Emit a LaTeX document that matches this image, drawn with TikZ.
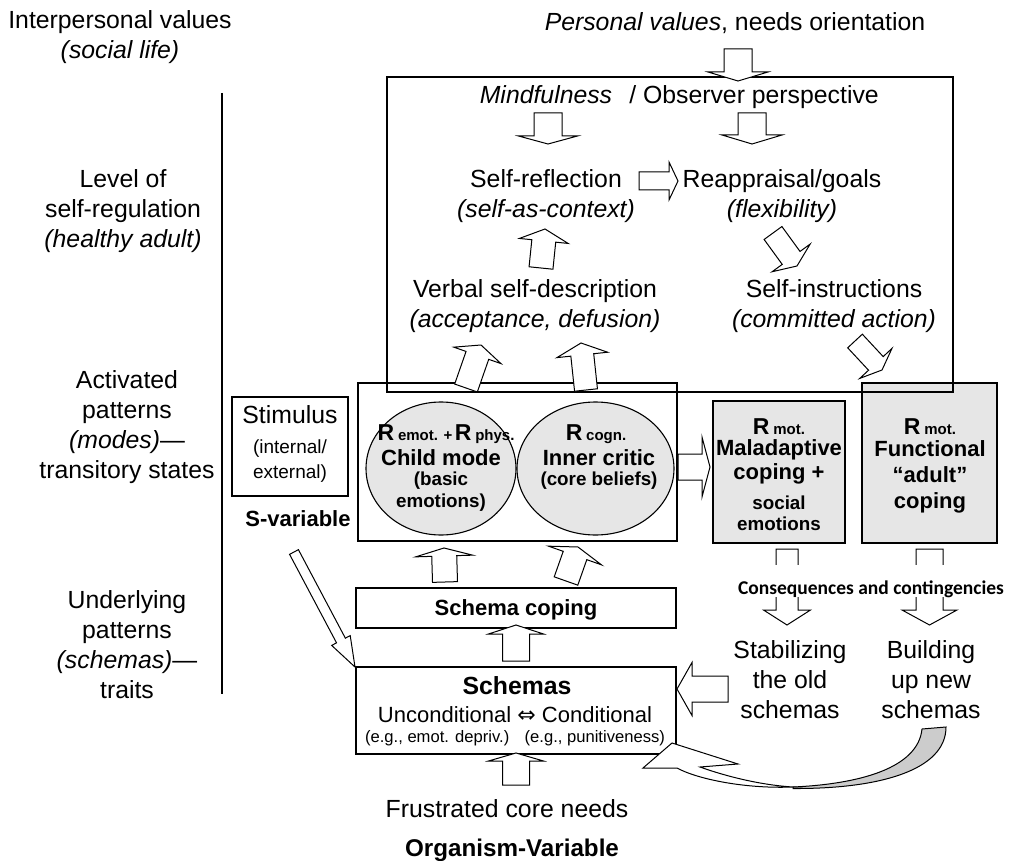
\documentclass[tikz,border=0pt]{standalone}
\usepackage{fontspec}
\setmainfont{Liberation Sans}
\newfontfamily\calibrifont{Carlito}
\newfontfamily\symbolfont{DejaVu Sans}
\usetikzlibrary{calc,shapes.geometric}

\definecolor{panelgray}{HTML}{E6E6E6}
\definecolor{ribbongray}{HTML}{CCCCCC}

\newcommand\fsz[2]{\fontsize{#1}{#2}\selectfont}

% block arrow: [options]{tail}{tip}{shaft half width}{head half width}{head length}
\newcommand\blockarrow[6][]{%
  \path ($(#3)!#6!(#2)$) coordinate (ba-h);
  \draw[barrow,#1] ($(#2)!#4!90:(#3)$) -- ($(ba-h)!#4!-90:(#2)$)
    -- ($(ba-h)!#5!-90:(#2)$) -- (#3) -- ($(ba-h)!#5!90:(#2)$)
    -- ($(ba-h)!#4!90:(#2)$) -- ($(#2)!#4!-90:(#3)$) -- cycle;
}

\tikzset{
  barrow/.style={draw=black, line width=1pt, fill=white, line join=miter, miter limit=25},
  frame/.style={draw=black, line width=1.1pt, inner sep=0pt},
  gframe/.style={frame, fill=panelgray},
  mode/.style={ellipse, draw=black, line width=1.1pt, fill=panelgray, inner sep=0pt},
  txt/.style={inner sep=0pt, align=center, font=\fsz{24.8}{30}},
  small/.style={inner sep=0pt, align=center, font=\fsz{19}{25}},
  tiny/.style={inner sep=0pt, align=center, font=\fsz{16.6}{20}},
  bold/.style={inner sep=0pt, align=center, font=\bfseries\fsz{22}{23.5}},
  boldsm/.style={inner sep=0pt, align=center, font=\bfseries\fsz{18.8}{22}},
  rline/.style={inner sep=0pt, font=\bfseries\fsz{23}{27}},
}
\newcommand\sublbl[1]{{\fsz{15}{18}#1}}

\begin{document}
\begin{tikzpicture}[x=1pt, y=-1pt]
\useasboundingbox (0,0) rectangle (1009,861);

% ---------- level labels on the left ----------
\node[txt] (interp) at (120,37) {Interpersonal values\\\textit{(social life)}};
\node[txt] (lvl) at (123,211) {Level of\\self-regulation\\\textit{(healthy adult)}};
\node[txt] (actv) at (127,427) {Activated\\patterns\\\textit{(modes)}—\\transitory states};
\node[txt] (undl) at (127,645) {Underlying\\patterns\\\textit{(schemas)}—\\traits};
\coordinate (vtop) at (222,93);
\coordinate (vbot) at (222,694);
\draw[line width=1.1pt] (vtop) -- (vbot);

% ---------- filled coping boxes ----------
\node[gframe, minimum width=132pt, minimum height=142pt] (malad) at (779,472) {};
\node[gframe, minimum width=135pt, minimum height=160pt] (funct) at (929.5,463) {};

% ---------- activated modes ----------
\node[frame, minimum width=319pt, minimum height=158pt] (modes) at (517.5,462) {};
\node[mode, minimum width=150pt, minimum height=133pt] (child) at (441,468.5) {};
\node[mode, minimum width=157pt, minimum height=133pt] (critic) at (595.5,468.5) {};
\node[frame, minimum width=116pt, minimum height=99pt] (stim) at (290,446.5) {};

% ---------- schema boxes ----------
\node[frame, minimum width=320pt, minimum height=40pt] (scoping) at (516,608) {};
\node[frame, minimum width=320pt, minimum height=87pt] (schemas) at (516,710.5) {};

% ---------- self-regulation frame ----------
\node[frame, minimum width=566pt, minimum height=315pt] (regbox) at (670,234.5) {};

% ---------- texts ----------
\node[txt, anchor=base] (persval) at (735,31) {\textit{Personal values}, needs orientation};
\node[txt, anchor=base] (mindf) at (546,104) {\textit{Mindfulness}};
\node[txt, anchor=base] (observ) at (754,104) {/ Observer perspective};
\node[txt] (selfrefl) at (546,196) {Self-reflection\\\textit{(self-as-context)}};
\node[txt] (reappr) at (782,196) {Reappraisal/goals\\\textit{(flexibility)}};
\node[txt] (verbal) at (535,306) {Verbal self-description\\\textit{(acceptance, defusion)}};
\node[txt] (selfinstr) at (834,306) {Self-instructions\\\textit{(committed action)}};

\node[rline] (child-r) at (446,434) {R\,\sublbl{emot. +\,}R\,\sublbl{phys.}};
\node[bold] (child-name) at (441,458) {Child mode};
\node[boldsm] (child-sub) at (441,492) {(basic\\emotions)};
\node[rline] (critic-r) at (596,434) {R\,\sublbl{cogn.}};
\node[bold] (critic-name) at (599,458) {Inner critic};
\node[boldsm] (critic-sub) at (599,481) {(core beliefs)};

\node[txt] (stim-name) at (290,415) {Stimulus};
\node[small] (stim-sub) at (290,461) {(internal/\\external)};
\node[bold] (svar) at (298,519) {S-variable};

\node[rline] (malad-r) at (779,427) {R\,\sublbl{mot.}};
\node[bold] (malad-name) at (779,462) {Maladaptive\\coping +};
\node[boldsm, font=\bfseries\fsz{18.8}{21}] (malad-sub) at (779,513) {social\\emotions};
\node[rline] (funct-r) at (930,427) {R\,\sublbl{mot.}};
\node[bold, font=\bfseries\fsz{22}{26}] (funct-name) at (930,477) {Functional\\“adult”\\coping};

\node[bold] (scoping-t) at (516,610) {Schema coping};
\node[txt, font=\bfseries\fsz{24.8}{30}] (schemas-t) at (517,686) {Schemas};
\node[txt, font=\fsz{22}{26}] (schemas-u) at (515,715) {Unconditional {\symbolfont ⇔} Conditional};
\node[tiny] (schemas-e) at (515,738) {(e.g., emot. depriv.) \ \ (e.g., punitiveness)};

\node[txt] (needs) at (507,809) {Frustrated core needs};
\node[txt, font=\bfseries\fsz{24.2}{29}] (organism) at (512,850) {Organism-Variable};

\node[txt] (stabil) at (790,680) {Stabilizing\\the old\\schemas};
\node[txt] (build) at (931,680) {Building\\up new\\schemas};

% ---------- block arrows ----------
\coordinate (pv-tail) at (738,49);   \coordinate (pv-tip) at (738,81);
\coordinate (mi-tail) at (548,113);  \coordinate (mi-tip) at (548,144);
\coordinate (ob-tail) at (752,113);  \coordinate (ob-tip) at (752,144);
\coordinate (sr-tail) at (639,181);  \coordinate (sr-tip) at (678,181);
\coordinate (vb-tail) at (541,268);  \coordinate (vb-tip) at (545,229);
\coordinate (ra-tail) at (773,233);  \coordinate (ra-tip) at (797,266);
\coordinate (si-tail) at (855,341);  \coordinate (si-tip) at (882,370);
\coordinate (cm-tail) at (466,388);  \coordinate (cm-tip) at (481,345);
\coordinate (ic-tail) at (586,390);  \coordinate (ic-tip) at (581,343);
\coordinate (md-tail) at (678,467);  \coordinate (md-tip) at (710,467);
\coordinate (sc1-tail) at (445,582); \coordinate (sc1-tip) at (444,548);
\coordinate (sc2-tail) at (566,581); \coordinate (sc2-tip) at (578,547);
\coordinate (sh-tail) at (516,661);  \coordinate (sh-tip) at (516,625);
\coordinate (nd-tail) at (516,785);  \coordinate (nd-tip) at (516,753);
\coordinate (sv-tail) at (294,552);  \coordinate (sv-tip) at (355,667);
\coordinate (ma-tail) at (787,549);  \coordinate (ma-tip) at (787,625);
\coordinate (fu-tail) at (929.5,549);\coordinate (fu-tip) at (929.5,625);
\coordinate (st-tail) at (728,689);  \coordinate (st-tip) at (677,689);

\blockarrow{pv-tail}{pv-tip}{14pt}{30pt}{9pt}
\blockarrow{mi-tail}{mi-tip}{14pt}{29.5pt}{8pt}
\blockarrow{ob-tail}{ob-tip}{14pt}{30pt}{9pt}
\blockarrow{sr-tail}{sr-tip}{9pt}{19pt}{9pt}
\blockarrow{vb-tail}{vb-tip}{12pt}{24.5pt}{12pt}
\blockarrow{ra-tail}{ra-tip}{11pt}{23.5pt}{10pt}
\blockarrow{si-tail}{si-tip}{10pt}{22pt}{9pt}
\blockarrow{cm-tail}{cm-tip}{12pt}{25pt}{11pt}
\blockarrow{ic-tail}{ic-tip}{11.5pt}{25.5pt}{12pt}
\blockarrow{md-tail}{md-tip}{13pt}{30pt}{8pt}
\blockarrow{sc1-tail}{sc1-tip}{12.5pt}{28.5pt}{8pt}
\blockarrow{sc2-tail}{sc2-tip}{12.5pt}{28pt}{9pt}
\blockarrow{sh-tail}{sh-tip}{13.5pt}{27.5pt}{9pt}
\blockarrow{nd-tail}{nd-tip}{13.5pt}{27.5pt}{8pt}
\blockarrow{sv-tail}{sv-tip}{5pt}{10.5pt}{30pt}
\blockarrow{ma-tail}{ma-tip}{11pt}{23.5pt}{15pt}
\blockarrow{fu-tail}{fu-tip}{13.5pt}{27.5pt}{15pt}
\blockarrow{st-tail}{st-tip}{13pt}{26.5pt}{15pt}

\node[font=\calibrifont\bfseries\fsz{19.5}{23}, fill=white, inner xsep=1pt, inner ysep=0pt,
      text height=29pt, text depth=3pt, anchor=base] (conseq) at (871,594)
      {Consequences and contingencies};

% ---------- curved ribbon arrow back to the schemas ----------
\coordinate (rib-top-l) at (922,729);
\coordinate (rib-top-r) at (946,727);
\coordinate (rib-join) at (793,787);
\coordinate (rib-tip) at (643,768);
\draw[barrow, fill=ribbongray] (rib-join) .. controls (860,784) and (918,768) .. (rib-top-l)
  -- (rib-top-r) .. controls (946,770) and (880,789) .. (793,788.5) -- cycle;
\draw[barrow] (rib-tip) -- (672,743) -- (738,764) -- (700,767)
  .. controls (725,776) and (760,785) .. (rib-join)
  .. controls (745,789) and (697,779) .. (677,768) -- cycle;
\end{tikzpicture}
\end{document}
